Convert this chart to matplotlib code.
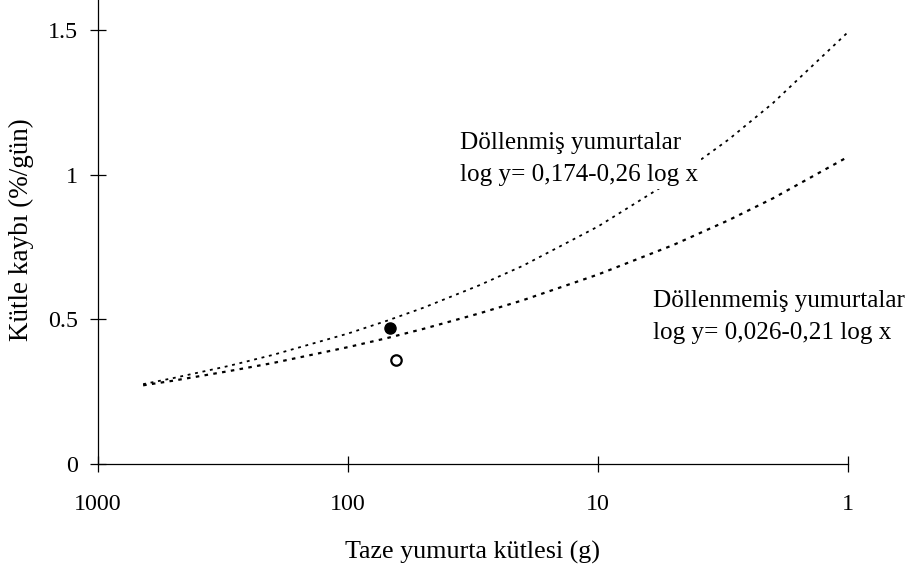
import matplotlib
matplotlib.use("Agg")
import matplotlib.pyplot as plt

plt.rcParams['font.family'] = ['Liberation Serif', 'DejaVu Serif']

# egg mass (g)
x_vals = [660, 500, 300, 200, 100, 70, 50, 30, 20, 10, 5, 3, 2, 1]
# fertilized eggs (Döllenmiş)
y_fert = [0.276, 0.297, 0.339, 0.377, 0.451, 0.495, 0.540, 0.617, 0.685,
          0.821, 0.983, 1.122, 1.247, 1.493]
# unfertilized eggs (Döllenmemiş)
y_unfert = [0.272, 0.288, 0.321, 0.349, 0.404, 0.435, 0.467, 0.520, 0.566,
            0.655, 0.757, 0.843, 0.918, 1.062]

# measured points
filled_x = [68]
filled_y = [0.47]
open_x = [64]
open_y = [0.36]

x_ticks = [1000, 100, 10, 1]
x_ticklabels = ["1000", "100", "10", "1"]
y_ticks = [0, 0.5, 1, 1.5]
y_ticklabels = ["0", "0.5", "1", "1.5"]

fs_tick = 17.3
fs_text = 18.7
fs_note = 18.1

fig = plt.figure(figsize=(9.12, 5.69), dpi=100)
ax = fig.add_axes([98 / 912, 105 / 569, 750 / 912, 464 / 569])

ax.plot(x_vals, y_fert, color="black", lw=1.3, linestyle=(0, (1.6, 2.6)))
ax.plot(x_vals, y_unfert, color="black", lw=1.6, linestyle=(0, (1.6, 2.4)))

ax.plot(filled_x, filled_y, "o", color="black", markersize=8)
ax.plot(open_x, open_y, "o", markerfacecolor="white", markeredgecolor="black",
        markersize=7.5, markeredgewidth=1.6)

ax.set_xscale("log")
ax.set_xlim(1000, 1)
ax.set_ylim(0, 1.604)
ax.set_xticks(x_ticks)
ax.set_xticklabels(x_ticklabels)
ax.minorticks_off()
ax.set_yticks(y_ticks)
ax.set_yticklabels(y_ticklabels)

for s in ["top", "right"]:
    ax.spines[s].set_visible(False)
for s in ["left", "bottom"]:
    ax.spines[s].set_linewidth(0.9)

ax.tick_params(axis="x", direction="inout", length=11, width=0.9, pad=16,
               labelsize=fs_tick)
ax.tick_params(axis="y", direction="inout", length=11, width=0.9, pad=9,
               labelsize=fs_tick)

ax.set_xlabel("Taze yumurta kütlesi (g)", fontsize=fs_text)
ax.xaxis.label.set_va("center")
ax.xaxis.set_label_coords(0.5, -0.19)
ax.set_ylabel("Kütle kaybı (%/gün)", fontsize=19.5)
ax.yaxis.label.set_va("center")
ax.yaxis.set_label_coords(-0.102, 0.505)

# labels sit on a white box, hiding the curve behind them
box = dict(facecolor="white", edgecolor="none", pad=2)
ax.text(35.6, 1.055, "Döllenmiş yumurtalar\nlog y= 0,174-0,26 log x",
        fontsize=fs_note, ha="left", va="center", linespacing=1.6,
        bbox=box, zorder=5)
ax.text(6.03, 0.509, "Döllenmemiş yumurtalar\nlog y= 0,026-0,21 log x",
        fontsize=fs_note, ha="left", va="center", linespacing=1.6,
        bbox=box, zorder=5)

fig.savefig("out.png", dpi=100)
